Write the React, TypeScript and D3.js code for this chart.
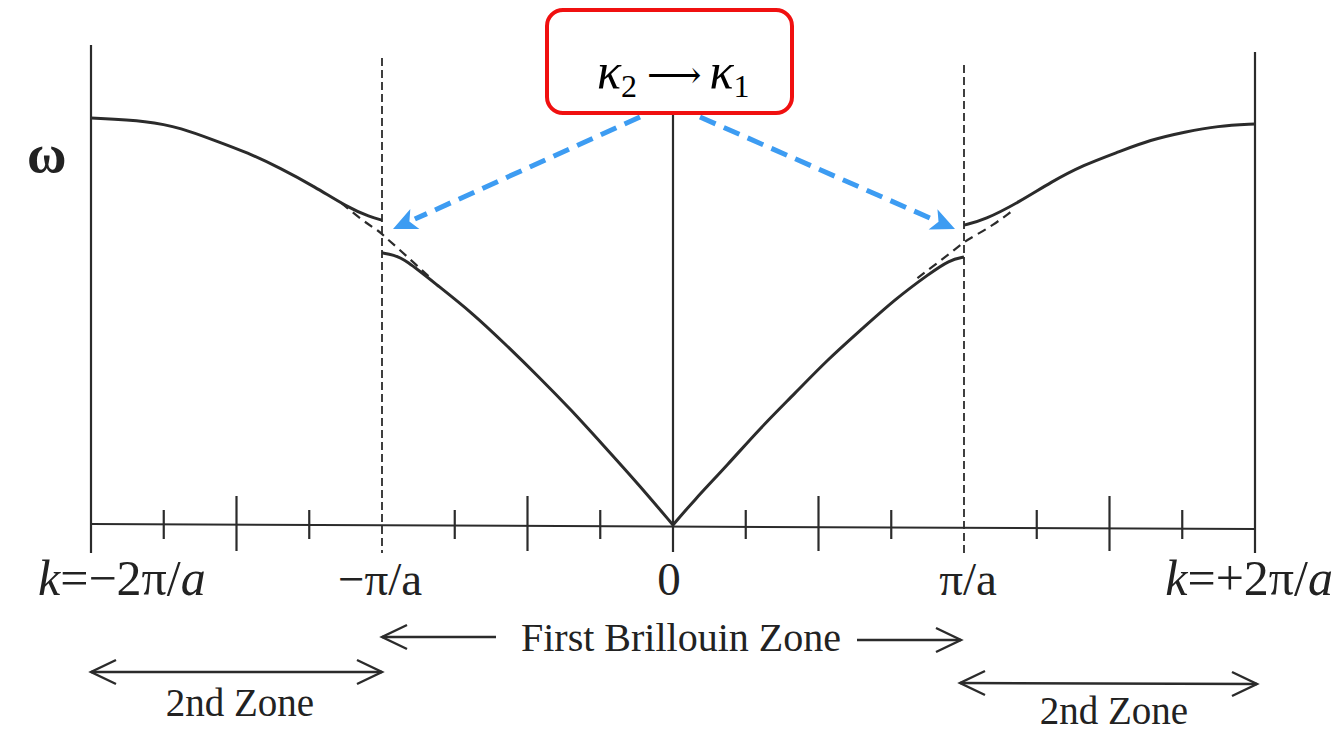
import React from "react";
import * as d3 from "d3";

// Wave number k in units of π/a, frequency ω in arbitrary units (0 = axis)
const leftUpperK = [-2.0, -1.8, -1.69, -1.58, -1.46, -1.35, -1.23, -1.12, -1.04, -1.0];
const leftUpperW = [0.969, 0.962, 0.945, 0.917, 0.886, 0.85, 0.805, 0.757, 0.733, 0.726];

const leftLowerK = [-1.0, -0.96, -0.92, -0.81, -0.69, -0.58, -0.46, -0.35, -0.24, -0.12, 0];
const leftLowerW = [0.648, 0.643, 0.632, 0.571, 0.505, 0.433, 0.352, 0.274, 0.19, 0.098, 0];

const rightLowerK = [0, 0.07, 0.19, 0.3, 0.42, 0.53, 0.65, 0.76, 0.88, 0.95, 1.0];
const rightLowerW = [0, 0.057, 0.145, 0.231, 0.314, 0.393, 0.467, 0.536, 0.598, 0.631, 0.638];

const rightUpperK = [1.0, 1.07, 1.19, 1.3, 1.41, 1.53, 1.64, 1.76, 1.87, 2.0];
const rightUpperW = [0.714, 0.726, 0.769, 0.817, 0.857, 0.888, 0.917, 0.936, 0.95, 0.955];

// Unperturbed (no-gap) dispersion through the zone boundaries
const leftFreeK = [-1.14, -1.06, -1.01, -0.99, -0.95, -0.89, -0.83];
const leftFreeW = [0.767, 0.721, 0.7, 0.686, 0.662, 0.624, 0.586];
const rightFreeK = [0.84, 0.9, 0.98, 1.0, 1.04, 1.1, 1.16];
const rightFreeW = [0.588, 0.619, 0.662, 0.674, 0.69, 0.714, 0.745];

// Axis ticks (k in units of π/a)
const halfTicks = [-1.5, -0.5, 0.5, 1.5];
const quarterTicks = [-1.75, -1.25, -0.75, -0.25, 0.25, 0.75, 1.25, 1.75];
const boundaryTicks = [-2, 2];
const zoneEdgeTicks = [-1, 1];

const W = 1336;
const H = 733;
const SERIF = "'Liberation Serif', 'Times New Roman', serif";

const x = d3.scaleLinear().domain([-2, 2]).range([91, 1255]);
const y = d3.scaleLinear().domain([0, 1]).range([525, 105]);

const zip = (ks: number[], ws: number[]) => ks.map((k, i) => [k, ws[i]] as [number, number]);

const line = d3
  .line<[number, number]>()
  .x((d) => x(d[0]))
  .y((d) => y(d[1]))
  .curve(d3.curveBasis);

const INK = "#2b2b2b";
const BLUE = "#3d9cf2";

function Chevron({ x0, y0, dir }: { x0: number; y0: number; dir: 1 | -1 }) {
  // open arrowhead pointing in direction dir (1 = right, -1 = left)
  const l = 25 * dir;
  return (
    <path
      d={`M${x0 - l},${y0 - 12} L${x0},${y0} L${x0 - l},${y0 + 12}`}
      fill="none"
      stroke={INK}
      strokeWidth={2.4}
    />
  );
}

function BlueArrow({ x1, y1, x2, y2 }: { x1: number; y1: number; x2: number; y2: number }) {
  const ang = Math.atan2(y2 - y1, x2 - x1);
  const headLen = 24;
  const headW = 11;
  const bx = x2 - headLen * Math.cos(ang);
  const by = y2 - headLen * Math.sin(ang);
  const px = -Math.sin(ang) * headW;
  const py = Math.cos(ang) * headW;
  return (
    <g>
      <line
        x1={x1}
        y1={y1}
        x2={bx}
        y2={by}
        stroke={BLUE}
        strokeWidth={5}
        strokeDasharray="17 9"
      />
      <path
        d={`M${x2},${y2} L${bx + px},${by + py} L${bx + 0.25 * headLen * Math.cos(ang)},${by + 0.25 * headLen * Math.sin(ang)} L${bx - px},${by - py} Z`}
        fill={BLUE}
      />
    </g>
  );
}

export default function App() {
  const base = y(0);
  return (
    <svg
      width={W}
      height={H}
      style={{ position: "absolute", left: 0, top: 0, background: "#fff" }}
      fontFamily={SERIF}
    >
      <rect x={0} y={0} width={W} height={H} fill="#fff" />

      {/* k axis */}
      <line x1={x(-2)} x2={x(2)} y1={base - 1} y2={base + 4} stroke={INK} strokeWidth={2} />

      {/* zone boundaries at ±2π/a */}
      {boundaryTicks.map((k, i) => (
        <line
          key={"b" + k}
          x1={x(k)}
          x2={x(k)}
          y1={i === 0 ? 45 : 52}
          y2={553}
          stroke={INK}
          strokeWidth={2.2}
        />
      ))}
      {/* ω axis through k = 0 */}
      <line x1={x(0)} x2={x(0)} y1={100} y2={552} stroke={INK} strokeWidth={2.2} />

      {/* first zone edges at ±π/a */}
      {zoneEdgeTicks.map((k, i) => (
        <line
          key={"z" + k}
          x1={x(k)}
          x2={x(k)}
          y1={i === 0 ? 58 : 65}
          y2={553}
          stroke={INK}
          strokeWidth={1.8}
          strokeDasharray="8 4"
        />
      ))}

      {halfTicks.map((k) => (
        <line key={"h" + k} x1={x(k)} x2={x(k)} y1={496} y2={551} stroke={INK} strokeWidth={2.2} />
      ))}
      {quarterTicks.map((k) => (
        <line key={"q" + k} x1={x(k)} x2={x(k)} y1={510} y2={539} stroke={INK} strokeWidth={2.2} />
      ))}

      {/* free-wave dispersion (dashed) */}
      {[zip(leftFreeK, leftFreeW), zip(rightFreeK, rightFreeW)].map((pts, i) => (
        <path
          key={"f" + i}
          d={line(pts) || ""}
          fill="none"
          stroke={INK}
          strokeWidth={2.2}
          strokeDasharray="9 6"
        />
      ))}

      {/* dispersion branches */}
      {[
        zip(leftUpperK, leftUpperW),
        zip(leftLowerK, leftLowerW),
        zip(rightLowerK, rightLowerW),
        zip(rightUpperK, rightUpperW),
      ].map((pts, i) => (
        <path key={"c" + i} d={line(pts) || ""} fill="none" stroke={INK} strokeWidth={3} />
      ))}

      {/* ω label */}
      <text x={27} y={172} fontSize={54} fontWeight="bold" fill="#222">
        ω
      </text>

      {/* k tick labels */}
      <g fontSize={47} fill="#222">
        <text x={38} y={595} fontSize={50}>
          <tspan fontStyle="italic">k</tspan>=−2π/<tspan fontStyle="italic">a</tspan>
        </text>
        <text x={x(-1) - 2} y={595} textAnchor="middle">
          −π/a
        </text>
        <text x={x(0) - 4} y={595} textAnchor="middle">
          0
        </text>
        <text x={x(1) + 4} y={595} textAnchor="middle">
          π/a
        </text>
        <text x={1333} y={595} textAnchor="end" fontSize={50}>
          <tspan fontStyle="italic">k</tspan>=+2π/<tspan fontStyle="italic">a</tspan>
        </text>
      </g>

      {/* First Brillouin Zone */}
      <text x={681} y={651} fontSize={40} textAnchor="middle" fill="#222">
        First Brillouin Zone
      </text>
      <line x1={x(-1)} x2={496} y1={637} y2={637} stroke={INK} strokeWidth={2.4} />
      <Chevron x0={x(-1)} y0={637} dir={-1} />
      <line x1={857} x2={x(1) - 3} y1={640} y2={640} stroke={INK} strokeWidth={2.4} />
      <Chevron x0={x(1) - 3} y0={640} dir={1} />

      {/* 2nd Zone, left */}
      <line x1={x(-2)} x2={x(-1)} y1={672} y2={672} stroke={INK} strokeWidth={2.6} />
      <Chevron x0={x(-2)} y0={672} dir={-1} />
      <Chevron x0={x(-1)} y0={672} dir={1} />
      <text x={240} y={716} fontSize={39} textAnchor="middle" fill="#222">
        2nd Zone
      </text>

      {/* 2nd Zone, right */}
      <line x1={x(1) - 4} x2={x(2) + 2} y1={683} y2={684} stroke={INK} strokeWidth={2.6} />
      <Chevron x0={x(1) - 4} y0={683} dir={-1} />
      <Chevron x0={x(2) + 2} y0={684} dir={1} />
      <text x={1114} y={724} fontSize={39} textAnchor="middle" fill="#222">
        2nd Zone
      </text>

      {/* gap annotation */}
      <BlueArrow x1={640} y1={117} x2={393} y2={229} />
      <BlueArrow x1={700} y1={117} x2={955} y2={229} />
      <rect x={547} y={10} width={245} height={103} rx={16} fill="#fff" stroke="#f01010" strokeWidth={4} />
      <text x={597} y={88} fontSize={50} fill="#000">
        <tspan fontStyle="italic">κ</tspan>
        <tspan fontSize={32} dy={9}>2</tspan>
        <tspan dy={-9} dx={10} fontFamily="'DejaVu Serif', serif" fontSize={38}>⟶</tspan>
        <tspan dx={8} fontStyle="italic">κ</tspan>
        <tspan fontSize={32} dy={9}>1</tspan>
      </text>
    </svg>
  );
}
